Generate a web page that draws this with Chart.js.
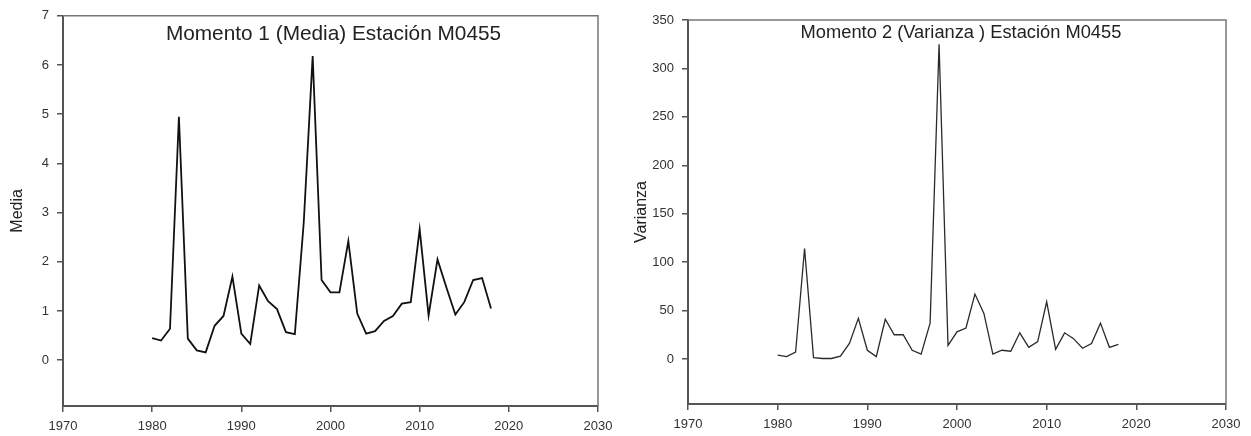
<!DOCTYPE html>
<html>
<head>
<meta charset="utf-8">
<script src="https://cdn.jsdelivr.net/npm/chart.js@4"></script>
<style>
  html, body { margin: 0; padding: 0; background: #fff; }
  #wrap { position: relative; width: 1251px; height: 436px; }
  #c1 { position: absolute; left: 0; top: 0; }
  #c2 { position: absolute; left: 625px; top: 0; }
</style>
</head>
<body>
<div id="wrap">
  <canvas id="c1" width="625" height="436"></canvas>
  <canvas id="c2" width="626" height="436"></canvas>
</div>
<script>
// años de la serie
const years = [1980, 1981, 1982, 1983, 1984, 1985, 1986, 1987, 1988, 1989,
               1990, 1991, 1992, 1993, 1994, 1995, 1996, 1997, 1998, 1999,
               2000, 2001, 2002, 2003, 2004, 2005, 2006, 2007, 2008, 2009,
               2010, 2011, 2012, 2013, 2014, 2015, 2016, 2017, 2018];

// momento 1 (media)
const media = [0.45, 0.40, 0.64, 4.95, 0.44, 0.20, 0.16, 0.70, 0.90, 1.70,
               0.54, 0.33, 1.52, 1.20, 1.04, 0.57, 0.53, 2.80, 6.18, 1.63,
               1.38, 1.38, 2.42, 0.95, 0.54, 0.59, 0.80, 0.90, 1.15, 1.18,
               2.66, 0.91, 2.05, 1.48, 0.93, 1.18, 1.63, 1.67, 1.05];

// momento 2 (varianza)
const varianza = [4, 2.4, 7, 114, 1.4, 0.5, 0.5, 3, 16, 42,
                  9, 2.4, 41, 25, 25, 9, 5, 37, 325, 14,
                  28, 32, 67, 47, 5, 9, 8, 27, 12, 18,
                  59, 10, 27, 21, 11, 16, 37, 12, 15];

const xTicks = [1970, 1980, 1990, 2000, 2010, 2020, 2030];

const FONT = "'Liberation Sans', Arial, sans-serif";

// marco superior/derecho y titulo dentro del area
const framePlugin = {
  id: "frame",
  afterDraw(chart, args, opts) {
    const { ctx, chartArea: a } = chart;
    ctx.save();
    ctx.strokeStyle = "#777";
    ctx.lineWidth = 1.5;
    ctx.beginPath();
    ctx.moveTo(a.left, a.top);
    ctx.lineTo(a.right, a.top);
    ctx.lineTo(a.right, a.bottom);
    ctx.stroke();
    ctx.fillStyle = "#222";
    ctx.font = opts.size + "px " + FONT;
    ctx.textAlign = "center";
    ctx.textBaseline = "alphabetic";
    ctx.fillText(opts.text, (a.left + a.right) / 2 + opts.dx, opts.baseline);
    ctx.restore();
  }
};

function makeChart(id, values, cfg) {
  return new Chart(document.getElementById(id).getContext("2d"), {
    type: "line",
    data: {
      datasets: [{
        data: years.map((y, i) => ({ x: y, y: values[i] })),
        borderColor: cfg.lineColor,
        borderWidth: cfg.lineWidth,
        pointRadius: 0,
        tension: 0,
        fill: false
      }]
    },
    plugins: [framePlugin],
    options: {
      responsive: false,
      devicePixelRatio: 1,
      animation: false,
      layout: { padding: { left: 0, right: cfg.padRight, top: cfg.padTop, bottom: 0 } },
      plugins: {
        legend: { display: false },
        tooltip: { enabled: false },
        frame: { text: cfg.title, size: cfg.titleSize, baseline: cfg.titleBase, dx: cfg.titleDx }
      },
      scales: {
        x: {
          type: "linear",
          min: 1970,
          max: 2030,
          afterBuildTicks: s => { s.ticks = xTicks.map(v => ({ value: v })); },
          afterFit: s => { s.height = cfg.xHeight; },
          border: { display: true, color: "#555", width: 2 },
          grid: { drawOnChartArea: false, drawTicks: true, tickLength: 6, color: "#555", lineWidth: 1.5 },
          ticks: {
            color: "#333", padding: 7, maxRotation: 0,
            font: { family: FONT, size: 13 },
            callback: v => String(v)
          }
        },
        y: {
          min: cfg.yMin,
          max: cfg.yMax,
          afterBuildTicks: s => { s.ticks = cfg.yTicks.map(v => ({ value: v })); },
          afterFit: s => { s.width = 63; },
          border: { display: true, color: "#555", width: 2 },
          grid: { drawOnChartArea: false, drawTicks: true, tickLength: 6, color: "#555", lineWidth: 1.5 },
          ticks: { color: "#333", padding: 8, font: { family: FONT, size: 13 } },
          title: {
            display: true,
            text: cfg.yTitle,
            color: "#222",
            font: { family: FONT, size: 16 },
            padding: { top: cfg.yTitlePad, bottom: 0 }
          }
        }
      }
    }
  });
}

makeChart("c1", media, {
  title: "Momento 1 (Media) Estación M0455",
  titleSize: 20.8, titleBase: 40, titleDx: 3,
  yTitle: "Media", yTitlePad: 8,
  yMin: -0.93, yMax: 7,
  yTicks: [0, 1, 2, 3, 4, 5, 6, 7],
  padRight: 27, padTop: 15, xHeight: 30,
  lineColor: "#111", lineWidth: 1.8
});

makeChart("c2", varianza, {
  title: "Momento 2 (Varianza ) Estación M0455",
  titleSize: 18.3, titleBase: 38, titleDx: 4,
  yTitle: "Varianza", yTitlePad: 7,
  yMin: -46.5, yMax: 350,
  yTicks: [0, 50, 100, 150, 200, 250, 300, 350],
  padRight: 25, padTop: 20, xHeight: 32,
  lineColor: "#2a2a2a", lineWidth: 1.3
});
</script>
</body>
</html>
